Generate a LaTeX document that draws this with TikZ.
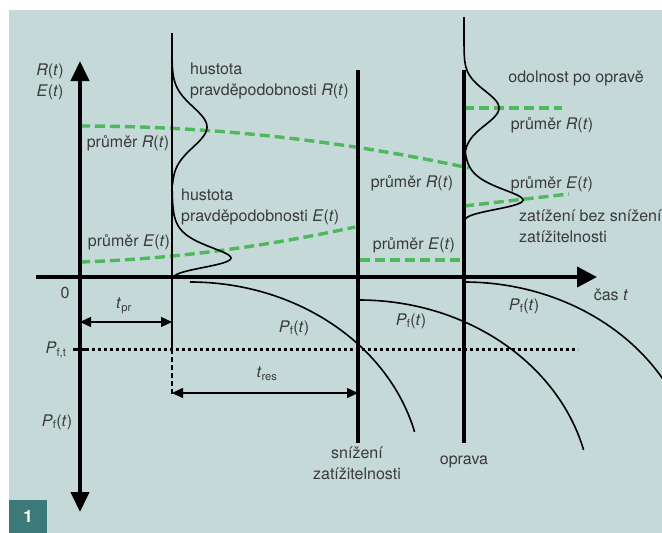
\documentclass[tikz,border=0pt]{standalone}
\usepackage{fontspec}
\setmainfont{TeX Gyre Heros}
\usetikzlibrary{arrows.meta,positioning,calc}
\definecolor{panel}{HTML}{C6D9D9}
\definecolor{cgreen}{HTML}{4DB85C}
\definecolor{txt}{HTML}{3A3A3A}
\definecolor{cteal}{HTML}{3B7A78}
\newcommand{\Rt}{\textit{R}(\textit{t})}
\newcommand{\Et}{\textit{E}(\textit{t})}
\newcommand{\Pf}{\textit{P}\textsubscript{f}(\textit{t})}
\tikzset{
  lbl/.style={inner sep=0pt, text=txt, font=\fontsize{16}{21}\selectfont, align=center},
  axis/.style={line width=4pt, draw=black},
  eventline/.style={line width=4pt, draw=black},
  hairline/.style={line width=1.5pt, draw=black},
  density/.style={line width=1.6pt, draw=black},
  meanline/.style={draw=cgreen, line width=3.4pt, dash pattern=on 10pt off 5pt},
  pfline/.style={line width=1.6pt, draw=black},
  thresh/.style={line width=3pt, draw=black, dash pattern=on 3pt off 3pt},
  dimarrow/.style={{Triangle[length=11pt,width=10pt]}-{Triangle[length=11pt,width=10pt]}, line width=1.4pt},
  numbox/.style={fill=cteal, text=white, font=\fontsize{17}{20}\selectfont\bfseries, minimum width=38pt, minimum height=33pt, inner sep=0pt},
}
\begin{document}
\begin{tikzpicture}[x=1pt,y=-1pt,
  declare function={gs(\yy,\my,\sy)=exp(-0.5*((\yy-\my)/\sy)*((\yy-\my)/\sy));
                    gb(\yy,\my,\sy)=exp(1-(\my-\yy)/\sy-exp((\yy-\my)/\sy));}]
  \fill[white] (0,0) rectangle (662,533);
  \fill[panel] (9,10) rectangle (662,533);
  \useasboundingbox (0,0) rectangle (662,533);
  % key points
  \coordinate (ytop) at (80,61);
  \coordinate (ybot) at (80,512);
  \coordinate (xl) at (36,277);
  \coordinate (xr) at (597,277);
  \coordinate (l1top) at (172,33);
  \coordinate (l1pf) at (172,349);
  \coordinate (l1bot) at (172,395);
  \coordinate (lstop) at (358,70);
  \coordinate (lsbot) at (358,443);
  \coordinate (lotop) at (464,70);
  \coordinate (lobot) at (464,443);
  \coordinate (tka) at (73,349);
  \coordinate (tkb) at (86,349);
  \coordinate (thend) at (578,349);
  % means (green)
  \coordinate (mRa) at (80,126);
  \coordinate (mRb) at (469,168);
  \coordinate (mEa) at (80,262);
  \coordinate (mEb) at (355,227);
  \coordinate (mEc) at (360,260);
  \coordinate (mEd) at (462,260);
  \coordinate (mRc) at (464,108);
  \coordinate (mRd) at (562,108);
  \coordinate (mEe) at (464,206);
  \coordinate (mEf) at (569,194);
  \draw[meanline] (mRa) .. controls (210,126) and (339,140) .. (mRb);
  \draw[meanline] (mEa) .. controls (172,259) and (263,247) .. (mEb);
  \foreach \a/\b in {mEc/mEd,mRc/mRd,mEe/mEf}{\draw[meanline](\a)--(\b);}
  % axes and event lines
  \draw[axis,{Triangle[length=20pt,width=18pt]}-{Triangle[length=20pt,width=18pt]}] (ytop) -- (ybot);
  \draw[axis,-{Triangle[length=20pt,width=20pt]}] (xl) -- (xr);
  \draw[hairline] (l1top) -- (l1pf);
  \draw[hairline,dash pattern=on 5pt off 3pt] (l1pf) -- (l1bot);
  \draw[eventline] (lstop) -- (lsbot);
  \draw[eventline] (lotop) -- (lobot);
  \draw[line width=3pt] (tka) -- (tkb);
  \draw[thresh] (tkb) -- (thend);
  % densities
  \draw[density] plot[domain=33:185, samples=70, smooth, variable=\t] ({172+35*gs(\t,127,20)}, \t);
  \draw[density] plot[domain=170:277, samples=70, smooth, variable=\t] ({172+59*gb(\t,258,10)}, \t);
  \draw[density] plot[domain=17:165, samples=70, smooth, variable=\t] ({464+35*gs(\t,108,17)}, \t);
  \draw[density] plot[domain=150:222, samples=60, smooth, variable=\t] ({464+59*gb(\t,200,10)}, \t);
  % failure probability
  \coordinate (pfa) at (190,282);
  \coordinate (pfb) at (359,300);
  \coordinate (pfc) at (464,282);
  \foreach \s in {pfa,pfb,pfc}{\draw[pfline] (\s) arc[start angle=90, end angle=14.5, x radius=232pt, y radius=200pt];}
  % time spans
  \coordinate (tpra) at (80,322);
  \coordinate (tprb) at (172,322);
  \coordinate (tresa) at (172,393);
  \coordinate (tresb) at (358,393);
  \draw[dimarrow] (tpra) -- (tprb);
  \draw[dimarrow] (tresa) -- (tresb);
  % labels
  \node[lbl] (axlbl) at (50,82) {\Rt\\\Et};
  \node[lbl] (zero) at (65,293) {0};
  \node[lbl] (pft) at (56,350) {\textit{P}\textsubscript{f,t}};
  \node[lbl] (pfax) at (57,422) {\Pf};
  \node[lbl] (tpr) at (124,306) {\textit{t}\textsubscript{pr}};
  \node[lbl] (tres) at (267,374) {\textit{t}\textsubscript{res}};
  \node[lbl] (pf1) at (294,328) {\Pf};
  \node[lbl] (pf2) at (411,321) {\Pf};
  \node[lbl] (pf3) at (524,306) {\Pf};
  \node[lbl] (cas) at (611,295) {čas \textit{t}};
  \node[lbl,anchor=west,align=left] (hustR) at (190,81) {hustota\\pravděpodobnosti \Rt};
  \node[lbl,anchor=west,align=left] (hustE) at (181,207) {hustota\\pravděpodobnosti \Et};
  \node[lbl] (prR1) at (128,143) {průměr \Rt};
  \node[lbl] (prE1) at (129,242) {průměr \Et};
  \node[lbl] (prR2) at (412,183) {průměr \Rt};
  \node[lbl] (prE2) at (414,245) {průměr \Et};
  \node[lbl] (odol) at (576,78) {odolnost po opravě};
  \node[lbl] (prR3) at (552,125) {průměr \Rt};
  \node[lbl] (prE3) at (552,184) {průměr \Et};
  \node[lbl,anchor=west,align=left] (zat) at (519,226) {zatížení bez snížení\\zatížitelnosti};
  \node[lbl] (sniz) at (357,463) {snížení\\zatížitelnosti};
  \node[lbl] (oprava) at (464,462) {oprava};
  \node[numbox] (fig) at (28,516.5) {1};
\end{tikzpicture}
\end{document}
